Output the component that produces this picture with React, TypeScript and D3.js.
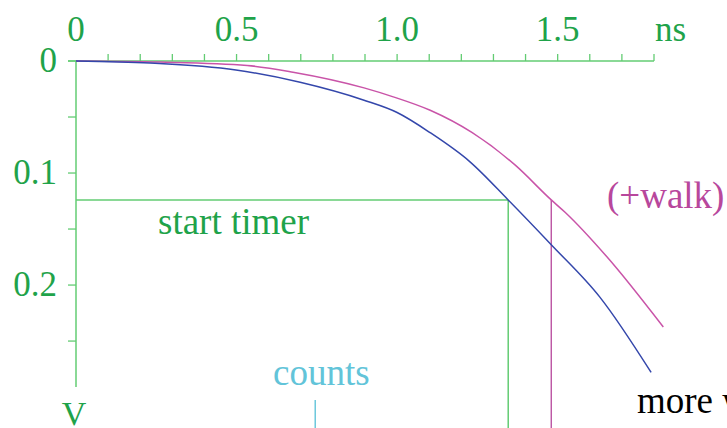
import React from "react";
import * as d3 from "d3";

// Time axis (ns) and voltage drop (V) of the two discharge curves
const baseTimes = [0, 0.23, 0.498, 0.698, 0.897, 1.0, 1.103, 1.227, 1.346, 1.48, 1.632, 1.791];
const baseVolts = [0, 0.0018, 0.008, 0.019, 0.035, 0.046, 0.064, 0.09, 0.124, 0.164, 0.211, 0.278];
const walkTimes = [0, 0.262, 0.533, 0.676, 0.897, 0.988, 1.103, 1.234, 1.368, 1.48, 1.523, 1.654, 1.829];
const walkVolts = [0, 0.001, 0.004, 0.01, 0.024, 0.032, 0.044, 0.064, 0.093, 0.124, 0.135, 0.175, 0.2375];

const xTickLabels = ["0", "0.5", "1.0", "1.5"];
const xTickLabelValues = [0, 0.5, 1.0, 1.5];
const yTickLabels = ["0", "0.1", "0.2"];
const yTickLabelValues = [0, 0.1, 0.2];

const threshold = 0.124;
const startTime = 1.346;
const walkTime = 1.48;
const countsTime = 0.745;

const W = 727;
const H = 428;

export default function App() {
  const x = d3.scaleLinear().domain([0, 1.8]).range([76, 654]);
  const y = d3.scaleLinear().domain([0, 0.291]).range([61, 387]);

  const line = d3
    .line<[number, number]>()
    .x((d) => x(d[0]))
    .y((d) => y(d[1]))
    .curve(d3.curveMonotoneX);

  const basePts = baseTimes.map((t, i) => [t, baseVolts[i]] as [number, number]);
  const walkPts = walkTimes.map((t, i) => [t, walkVolts[i]] as [number, number]);

  const xMinor = d3.range(1, 19).map((i) => i / 10);
  const yMinor = d3.range(0, 6).map((i) => i * 0.05);

  const green = "#1fa34a";
  const axisGreen = "#63cc73";
  const serif: React.CSSProperties = {
    fontFamily:
      '"Liberation Serif", "DejaVu Serif", "Noto Serif", Tinos, FreeSerif, "Times New Roman", Times, serif',
  };

  return (
    <svg
      width={W}
      height={H}
      style={{ position: "absolute", left: 0, top: 0, background: "#fff" }}
    >
      {/* axes */}
      <line x1={x(0) - 8} x2={x(1.8)} y1={y(0)} y2={y(0)} stroke={axisGreen} strokeWidth={1.5} />
      <line x1={x(0)} x2={x(0)} y1={y(0)} y2={y(0.291)} stroke={axisGreen} strokeWidth={1.5} />
      {xMinor.map((t) => (
        <line key={t} x1={x(t)} x2={x(t)} y1={y(0)} y2={y(0) - 7} stroke={axisGreen} strokeWidth={1.3} />
      ))}
      {yMinor.map((v) => (
        <line key={v} x1={x(0) - 8} x2={x(0)} y1={y(v)} y2={y(v)} stroke={axisGreen} strokeWidth={1.3} />
      ))}
      {xTickLabels.map((s, i) => (
        <text key={s} x={x(xTickLabelValues[i])} y={41} textAnchor="middle" fontSize={35} fill={green} style={serif}>
          {s}
        </text>
      ))}
      <text x={x(1.8) + 1} y={41} fontSize={35} fill={green} style={serif}>ns</text>
      {yTickLabels.map((s, i) => (
        <text key={s} x={57} y={y(yTickLabelValues[i]) + 11} textAnchor="end" fontSize={35} fill={green} style={serif}>
          {s}
        </text>
      ))}
      <text x={74} y={425} textAnchor="middle" fontSize={34} fill={green} style={serif}>V</text>

      {/* threshold and timer markers */}
      <line x1={x(0)} x2={x(startTime)} y1={y(threshold)} y2={y(threshold)} stroke={axisGreen} strokeWidth={1.5} />
      <line x1={x(startTime)} x2={x(startTime)} y1={y(threshold)} y2={H} stroke={axisGreen} strokeWidth={1.5} />
      <line x1={x(walkTime)} x2={x(walkTime)} y1={y(threshold)} y2={H} stroke="#b5459a" strokeWidth={1.3} />
      <line x1={x(countsTime)} x2={x(countsTime)} y1={400} y2={H} stroke="#6cc8dc" strokeWidth={1.5} />

      {/* curves */}
      <path d={line(walkPts) ?? ""} fill="none" stroke="#c954a8" strokeWidth={1.5} />
      <path d={line(basePts) ?? ""} fill="none" stroke="#3447ab" strokeWidth={1.5} />

      {/* labels */}
      <text x={158} y={234} fontSize={37} fill={green} style={serif}>start timer</text>
      <text x={607} y={208} fontSize={37} fill="#b8479c" style={serif}>(+walk)</text>
      <text x={273} y={385} fontSize={37} fill="#62c4d9" style={serif}>counts</text>
      <text x={637} y={413} fontSize={37} fill="#000" style={serif}>more walk</text>
    </svg>
  );
}
